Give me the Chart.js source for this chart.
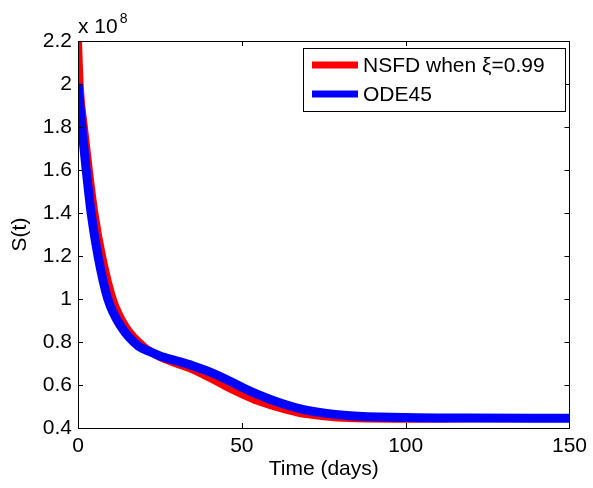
<!DOCTYPE html>
<html>
<head>
<meta charset="utf-8">
<script src="https://cdn.jsdelivr.net/npm/chart.js@4"></script>
<style>
  html, body { margin: 0; padding: 0; background: #fff; }
  #wrap { width: 593px; height: 488px; }
</style>
</head>
<body>
<div id="wrap"><canvas id="chart" width="593" height="488"></canvas></div>
<script>
// values, S in units of 10^8
const nsfdTime = [0, 0.5, 1.9, 3.3, 5.0, 7.4, 10.7, 14.6, 20.2, 25, 30, 35, 40, 45, 50, 55, 60, 67, 75, 83, 100, 120, 150];
const nsfdS    = [2.2, 2.0, 1.786, 1.60, 1.40, 1.195, 0.995, 0.87, 0.777, 0.73, 0.70, 0.672, 0.635, 0.595, 0.558, 0.525, 0.50, 0.472, 0.455, 0.446, 0.443, 0.445, 0.447];

const odeTime = [0, 1.3, 2.5, 4.0, 6.1, 9.1, 13.2, 18.5, 22, 25, 30, 35, 40, 45, 50, 55, 62, 70, 83, 100, 120, 150];
const odeS    = [2.0, 1.78, 1.60, 1.40, 1.20, 1.0, 0.87, 0.78, 0.755, 0.735, 0.713, 0.69, 0.662, 0.628, 0.59, 0.555, 0.515, 0.482, 0.457, 0.449, 0.446, 0.445];

const seriesNames = ['NSFD when \u03BE=0.99', 'ODE45'];
const seriesColors = ['#ff0000', '#0000ff'];

const xTicks = [0, 50, 100, 150];
const yTicks = [0.4, 0.6, 0.8, 1, 1.2, 1.4, 1.6, 1.8, 2, 2.2];
const yExponent = '8';

const FONT = 'Liberation Sans, Arial, Helvetica, sans-serif';

function toPoints(ts, vs) {
  return ts.map((t, i) => ({ x: t, y: vs[i] }));
}

// matlab style box with inward ticks, the x 10^8 note and the legend
const matlabAxes = {
  id: 'matlabAxes',
  afterDatasetsDraw(chart) {
    const ctx = chart.ctx;
    const a = chart.chartArea;
    const xs = chart.scales.x, ys = chart.scales.y;
    const tl = 5;
    ctx.save();
    ctx.strokeStyle = '#000';
    ctx.lineWidth = 1;
    ctx.beginPath();
    xTicks.forEach(v => {
      const px = Math.round(xs.getPixelForValue(v)) + 0.5;
      ctx.moveTo(px, a.bottom); ctx.lineTo(px, a.bottom - tl);
      ctx.moveTo(px, a.top); ctx.lineTo(px, a.top + tl);
    });
    yTicks.forEach(v => {
      const py = Math.round(ys.getPixelForValue(v)) + 0.5;
      ctx.moveTo(a.left, py); ctx.lineTo(a.left + tl, py);
      ctx.moveTo(a.right, py); ctx.lineTo(a.right - tl, py);
    });
    ctx.stroke();
    ctx.strokeRect(Math.round(a.left) + 0.5, Math.round(a.top) + 0.5,
      Math.round(a.right - a.left), Math.round(a.bottom - a.top));

    // exponent note
    ctx.fillStyle = '#000';
    ctx.textBaseline = 'alphabetic';
    ctx.textAlign = 'left';
    ctx.font = '21px ' + FONT;
    ctx.fillText('x 10', a.left, 33);
    const w = ctx.measureText('x 10').width;
    ctx.font = '14px ' + FONT;
    ctx.fillText(yExponent, a.left + w + 2, 23);

    // legend
    const lx = 303, ly = 48, lw = 262, lh = 63;
    ctx.fillStyle = '#fff';
    ctx.fillRect(lx, ly, lw, lh);
    ctx.strokeRect(lx + 0.5, ly + 0.5, lw, lh);
    ctx.font = '21px ' + FONT;
    ctx.textBaseline = 'middle';
    chart.data.datasets.forEach((ds, i) => {
      const cy = ly + 17 + i * 29;
      ctx.strokeStyle = ds.borderColor;
      ctx.lineWidth = 7;
      ctx.beginPath();
      ctx.moveTo(lx + 9, cy);
      ctx.lineTo(lx + 55, cy);
      ctx.stroke();
      ctx.fillStyle = '#000';
      ctx.fillText(ds.label, lx + 60, cy + 1);
    });
    ctx.restore();
  }
};

const ctx = document.getElementById('chart').getContext('2d');
const sChart = new Chart(ctx, {
  type: 'line',
  data: {
    datasets: [
      {
        label: seriesNames[0],
        data: toPoints(nsfdTime, nsfdS),
        borderColor: seriesColors[0],
        borderWidth: 8,
        pointRadius: 0,
        fill: false,
        cubicInterpolationMode: 'monotone',
        clip: 0,
        order: 2
      },
      {
        label: seriesNames[1],
        data: toPoints(odeTime, odeS),
        borderColor: seriesColors[1],
        borderWidth: 9,
        pointRadius: 0,
        fill: false,
        cubicInterpolationMode: 'monotone',
        clip: 0,
        order: 1
      }
    ]
  },
  options: {
    responsive: false,
    animation: false,
    devicePixelRatio: 1,
    layout: { padding: { top: 41, right: 21, bottom: 0, left: 0 } },
    plugins: {
      legend: { display: false },
      tooltip: { enabled: false }
    },
    scales: {
      x: {
        type: 'linear',
        min: 0,
        max: 150,
        afterBuildTicks: s => { s.ticks = xTicks.map(v => ({ value: v })); },
        afterFit: s => { s.height = 60; },
        grid: { display: false, drawTicks: false },
        border: { display: false },
        ticks: { color: '#000', font: { family: FONT, size: 21 }, padding: 6, maxRotation: 0 },
        title: {
          display: true,
          text: 'Time (days)',
          color: '#000',
          font: { family: FONT, size: 21 },
          padding: { top: 0, bottom: 6 }
        }
      },
      y: {
        type: 'linear',
        min: 0.4,
        max: 2.2,
        afterBuildTicks: s => { s.ticks = yTicks.map(v => ({ value: v })); },
        afterFit: s => { s.width = 78; },
        grid: { display: false, drawTicks: false },
        border: { display: false },
        ticks: {
          color: '#000',
          font: { family: FONT, size: 21 },
          padding: 6,
          callback: v => parseFloat(v.toFixed(1)).toString()
        },
        title: {
          display: true,
          text: 'S(t)',
          color: '#000',
          font: { family: FONT, size: 21 },
          padding: { top: 8, bottom: 0 }
        }
      }
    }
  },
  plugins: [matlabAxes]
});
</script>
</body>
</html>
